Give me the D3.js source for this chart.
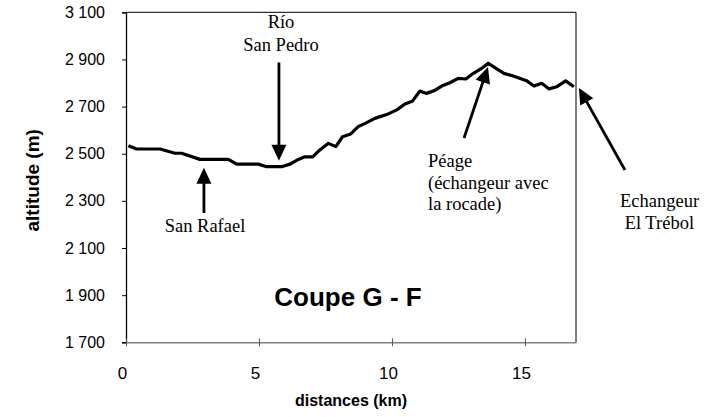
<!DOCTYPE html>
<html>
<head>
<meta charset="utf-8">
<script src="https://cdn.jsdelivr.net/npm/d3@7"></script>
<style>
  html, body { margin: 0; padding: 0; background: #fff; }
  svg { display: block; }
</style>
</head>
<body>
<svg id="chart" width="720" height="417"></svg>
<script>
// Profile of cross-section G - F: distance along the road (km) and altitude (m)
const distances = [0.09, 0.4, 1.28, 1.84, 2.09, 2.78, 3.85, 4.16, 4.97, 5.29, 5.85, 6.17, 6.48, 6.73, 7.02,
  7.29, 7.61, 7.89, 8.14, 8.45, 8.73, 9.05, 9.36, 9.86, 10.18, 10.49, 10.78, 11.05, 11.3, 11.58,
  11.87, 12.18, 12.49, 12.78, 13.06, 13.37, 13.62, 13.91, 14.21, 14.56, 15.06, 15.34, 15.63, 15.91,
  16.19, 16.53, 16.84];
const altitudes = [2534, 2520, 2520, 2502, 2502, 2476, 2476, 2456, 2456, 2445, 2445, 2456, 2476, 2487, 2487,
  2516, 2544, 2530, 2572, 2584, 2615, 2632, 2650, 2669, 2686, 2711, 2724, 2766, 2756, 2767,
  2787, 2801, 2820, 2817, 2841, 2862, 2884, 2862, 2841, 2830, 2810, 2787, 2799, 2775,
  2784, 2809, 2784];

const xTicks = [0, 5, 10, 15];
const yTicks = [1700, 1900, 2100, 2300, 2500, 2700, 2900, 3100];

// Labelled landmarks: arrow tip / tail in data units, label lines
const landmarkNames = ["San Pedro", "San Rafael", "Péage", "Echangeur"];
const arrowTips  = [[5.75, 2470], [2.93, 2441], [13.61, 2868], [17.03, 2779]];
const arrowTails = [[5.75, 2887], [2.93, 2249], [12.71, 2567], [18.76, 2431]];
const landmarkLabels = [
  ["Río", "San Pedro"],
  ["San Rafael"],
  ["Péage", "(échangeur avec", "la rocade)"],
  ["Echangeur", " El Trébol"]
];

const svg = d3.select("#chart");
const plotLeft = 126, plotRight = 576, plotTop = 12.3, plotBottom = 342.3;
const sans = "Arial, 'Liberation Sans', sans-serif";

const x = d3.scaleLinear().domain([0, 16.92]).range([plotLeft, plotRight]);
const y = d3.scaleLinear().domain([1700, 3100]).range([plotBottom, plotTop]);

// plot frame (top and right)
svg.append("path")
  .attr("d", `M${plotLeft},${plotTop}H${plotRight}V${plotBottom}`)
  .attr("fill", "none").attr("stroke", "#000").attr("stroke-width", 1);

// y axis
const yAxis = svg.append("g")
  .attr("transform", `translate(${plotLeft},0)`)
  .call(d3.axisLeft(y).tickValues(yTicks).tickSize(4).tickPadding(17)
    .tickFormat(d => d3.format(",")(d).replace(",", " ")));
yAxis.select(".domain").attr("stroke", "#000").attr("stroke-width", 1.3);
yAxis.selectAll(".tick line").attr("stroke", "#000");
yAxis.selectAll("text").attr("font-family", sans)
  .attr("font-size", 16).attr("fill", "#000");

// x axis
const xAxis = svg.append("g")
  .attr("transform", `translate(0,${plotBottom})`)
  .call(d3.axisBottom(x).tickValues(xTicks).tickSize(4).tickPadding(21).tickSizeOuter(0));
xAxis.select(".domain").attr("stroke", "#808080").attr("stroke-width", 1.4);
xAxis.selectAll(".tick line").attr("stroke", "#555").attr("y1", -4).attr("y2", 4);
xAxis.selectAll("text").attr("font-family", sans)
  .attr("font-size", 17).attr("fill", "#000").attr("dx", -4);

// axis titles
svg.append("text")
  .attr("x", (plotLeft + plotRight) / 2).attr("y", 406)
  .attr("text-anchor", "middle")
  .attr("font-family", sans)
  .attr("font-weight", "bold").attr("font-size", 16)
  .text("distances (km)");

svg.append("text")
  .attr("transform", `translate(38.5,${(plotTop + plotBottom) / 2 + 3}) rotate(-90)`)
  .attr("text-anchor", "middle")
  .attr("font-family", sans)
  .attr("font-weight", "bold").attr("font-size", 19)
  .text("altitude (m)");

// section title inside the plot
svg.append("text")
  .attr("x", 348).attr("y", 306)
  .attr("text-anchor", "middle")
  .attr("font-family", sans)
  .attr("font-weight", "bold").attr("font-size", 26)
  .text("Coupe G - F");

// altitude profile
const pts = distances.map((d, i) => [d, altitudes[i]]);
svg.append("path")
  .datum(pts)
  .attr("fill", "none")
  .attr("stroke", "#000")
  .attr("stroke-width", 3.2)
  .attr("stroke-linejoin", "round")
  .attr("d", d3.line().x(d => x(d[0])).y(d => y(d[1])));

// arrows pointing at landmarks
const headLen = 16, headHalf = 7.5;
landmarkNames.forEach((name, i) => {
  const tx = x(arrowTips[i][0]), ty = y(arrowTips[i][1]);
  const sx = x(arrowTails[i][0]), sy = y(arrowTails[i][1]);
  const ang = Math.atan2(ty - sy, tx - sx);
  const ux = Math.cos(ang), uy = Math.sin(ang);
  const bx = tx - ux * headLen, by = ty - uy * headLen;
  svg.append("line")
    .attr("x1", sx).attr("y1", sy).attr("x2", bx + ux * 2).attr("y2", by + uy * 2)
    .attr("stroke", "#000").attr("stroke-width", 2.8);
  svg.append("path")
    .attr("d", `M${tx},${ty}L${bx - uy * headHalf},${by + ux * headHalf}L${bx + uy * headHalf},${by - ux * headHalf}Z`)
    .attr("fill", "#000");
});

// landmark labels
const serif = "'Times New Roman', 'Liberation Serif', serif";
const labelSpecs = [
  { x: 281, y: 28, anchor: "middle", lh: 23 },
  { x: 205, y: 232, anchor: "middle", lh: 22 },
  { x: 428, y: 167, anchor: "start", lh: 21.5 },
  { x: 620, y: 207, anchor: "start", lh: 21.5 }
];
landmarkLabels.forEach((lines, i) => {
  const s = labelSpecs[i];
  const t = svg.append("text")
    .attr("font-family", serif).attr("font-size", 18.5)
    .attr("text-anchor", s.anchor).attr("fill", "#000")
    .attr("xml:space", "preserve");
  lines.forEach((ln, j) => {
    t.append("tspan").attr("x", s.x).attr("y", s.y + j * s.lh).text(ln);
  });
});
</script>
</body>
</html>
